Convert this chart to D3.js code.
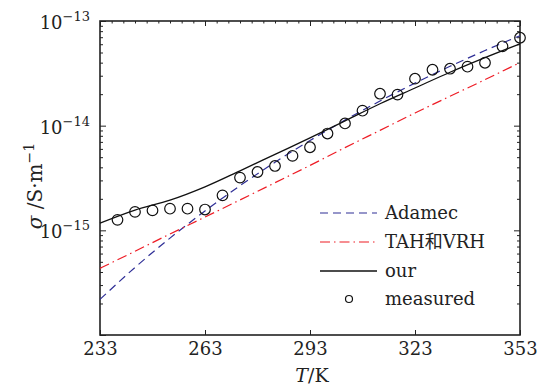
<!DOCTYPE html>
<html>
<head>
<meta charset="utf-8">
<script src="https://d3js.org/d3.v7.min.js"></script>
<style>
  body { margin: 0; background: #fff; }
  .axis path { display: none; }
  .axis line { stroke: #222; stroke-width: 1; }
</style>
</head>
<body>
<div id="chart"></div>
<script>
// temperatures for model curves (K)
var modelT = [233, 243, 253, 263, 273, 283, 293, 303, 313, 323, 333, 343, 353];
// conductivity, S/m
var adamec = [2.19e-16, 4.42e-16, 8.43e-16, 1.53e-15, 2.67e-15, 4.47e-15, 7.21e-15,
              1.13e-14, 1.72e-14, 2.55e-14, 3.69e-14, 5.22e-14, 7.24e-14];
var tahVrh = [4.33e-16, 6.31e-16, 9.23e-16, 1.34e-15, 1.95e-15, 2.85e-15, 4.17e-15,
              6.17e-15, 9.02e-15, 1.32e-14, 1.91e-14, 2.75e-14, 4.01e-14];
var ours   = [1.17e-15, 1.56e-15, 1.94e-15, 2.60e-15, 3.70e-15, 5.32e-15, 7.64e-15,
              1.11e-14, 1.62e-14, 2.29e-14, 3.24e-14, 4.47e-14, 6.05e-14];

var measT = [238, 243, 248, 253, 258, 263, 268, 273, 278, 283, 288, 293,
             298, 303, 308, 313, 318, 323, 328, 333, 338, 343, 348, 353];
var measured = [1.26e-15, 1.50e-15, 1.55e-15, 1.61e-15, 1.61e-15, 1.58e-15, 2.16e-15, 3.19e-15,
                3.61e-15, 4.12e-15, 5.14e-15, 6.22e-15, 8.41e-15, 1.05e-14, 1.39e-14, 2.02e-14,
                1.98e-14, 2.81e-14, 3.42e-14, 3.50e-14, 3.66e-14, 3.99e-14, 5.73e-14, 6.92e-14];

var xTicks = [233, 263, 293, 323, 353];
var yTicks = [1e-15, 1e-14, 1e-13];
var legendNames = ["Adamec", "TAH和VRH", "our", "measured"];

var FONT = "'DejaVu Serif', 'Noto Sans CJK SC'";
var w = 537, h = 387;
var pL = 100, pR = 520, pT = 21, pB = 335;

var svg = d3.select("#chart").append("svg")
  .attr("width", w)
  .attr("height", h)
  .style("font-family", FONT);

var x = d3.scaleLinear().domain([233, 353]).range([pL, pR]);
var y = d3.scaleLog().domain([1e-16, 1e-13]).range([pB, pT]);

// minor ticks
var yMinor = [];
[-16, -15, -14].forEach(function (e) {
  for (var m = 2; m <= 9; m++) yMinor.push(m * Math.pow(10, e));
});
var xMinor = [];
for (var i = 0; i < 4; i++) {
  for (var k = 1; k < 9; k++) xMinor.push(233 + i * 30 + k * 30 / 9);
}

// bottom axis
var xb = svg.append("g").attr("class", "axis")
  .attr("transform", "translate(0," + pB + ")")
  .call(d3.axisBottom(x).tickValues(xTicks).tickSize(-5).tickPadding(7).tickFormat(d3.format("d")));
xb.attr("font-family", FONT).attr("font-size", 18);
xb.selectAll("text").attr("fill", "#222");

// top axis
svg.append("g").attr("class", "axis")
  .attr("transform", "translate(0," + pT + ")")
  .call(d3.axisTop(x).tickValues(xTicks).tickSize(-5).tickFormat(""));
svg.append("g").attr("class", "axis")
  .attr("transform", "translate(0," + pT + ")")
  .call(d3.axisTop(x).tickValues(xMinor).tickSize(-2.5).tickFormat(""));

// left axis
var yl = svg.append("g").attr("class", "axis")
  .attr("transform", "translate(" + pL + ",0)")
  .call(d3.axisLeft(y).tickValues(yTicks.concat([1e-16])).tickSize(-6).tickPadding(10).tickFormat(""));
yl.attr("font-family", FONT).attr("font-size", 18);
yl.selectAll(".tick").filter(function (d) { return d > 2e-16; })
  .select("text")
  .attr("fill", "#222")
  .attr("dy", "0.42em")
  .each(function (d) {
    var t = d3.select(this);
    t.append("tspan").text("10");
    t.append("tspan").attr("dy", -8).attr("font-size", 13)
      .text("\u2212" + Math.round(-Math.log10(d)));
  });
svg.append("g").attr("class", "axis")
  .attr("transform", "translate(" + pL + ",0)")
  .call(d3.axisLeft(y).tickValues(yMinor).tickSize(-3).tickFormat(""));

// right axis
svg.append("g").attr("class", "axis")
  .attr("transform", "translate(" + pR + ",0)")
  .call(d3.axisRight(y).tickValues(yTicks).tickSize(-6).tickFormat(""));
svg.append("g").attr("class", "axis")
  .attr("transform", "translate(" + pR + ",0)")
  .call(d3.axisRight(y).tickValues(yMinor).tickSize(-3).tickFormat(""));

// frame
svg.append("rect")
  .attr("x", pL).attr("y", pT)
  .attr("width", pR - pL).attr("height", pB - pT)
  .attr("fill", "none").attr("stroke", "#222").attr("stroke-width", 1.6);

var line = d3.line()
  .x(function (d) { return x(d[0]); })
  .y(function (d) { return y(d[1]); })
  .curve(d3.curveMonotoneX);

var series = [
  { values: adamec, color: "#2e2e96", dash: "8,5", width: 1.2 },
  { values: tahVrh, color: "#ee1c25", dash: "10,4,1.5,4", width: 1.2 },
  { values: ours, color: "#111", dash: null, width: 1.3 }
];

series.forEach(function (s) {
  svg.append("path")
    .datum(d3.zip(modelT, s.values))
    .attr("d", line)
    .attr("fill", "none")
    .attr("stroke", s.color)
    .attr("stroke-width", s.width)
    .attr("stroke-dasharray", s.dash);
});

svg.selectAll(".meas")
  .data(d3.zip(measT, measured))
  .enter()
  .append("circle")
  .attr("class", "meas")
  .attr("cx", function (d) { return x(d[0]); })
  .attr("cy", function (d) { return y(d[1]); })
  .attr("r", 5.3)
  .attr("fill", "none")
  .attr("stroke", "#111")
  .attr("stroke-width", 1.2);

// legend
var lg = svg.append("g");
var rowY = [213, 242, 271, 299];
legendNames.forEach(function (name, i) {
  if (i < 3) {
    var s = series[i];
    lg.append("line")
      .attr("x1", 320).attr("x2", 377)
      .attr("y1", rowY[i]).attr("y2", rowY[i])
      .attr("stroke", s.color)
      .attr("stroke-width", s.width)
      .attr("stroke-dasharray", s.dash);
  } else {
    lg.append("circle")
      .attr("cx", 349).attr("cy", rowY[i]).attr("r", 3.5)
      .attr("fill", "none").attr("stroke", "#111").attr("stroke-width", 1.2);
  }
  lg.append("text")
    .attr("x", 385).attr("y", rowY[i] + 6)
    .attr("font-size", 18)
    .attr("fill", "#222")
    .text(name);
});

// axis titles
var xt = svg.append("text")
  .attr("x", 312).attr("y", 382)
  .attr("text-anchor", "middle")
  .attr("font-size", 19)
  .attr("fill", "#222");
xt.append("tspan").attr("font-style", "italic").text("T");
xt.append("tspan").text("/K");

var yt = svg.append("text")
  .attr("transform", "translate(42,186) rotate(-90)")
  .attr("text-anchor", "middle")
  .attr("font-size", 20)
  .attr("fill", "#222");
yt.append("tspan").attr("font-style", "italic").text("σ");
yt.append("tspan").text(" /S·m");
yt.append("tspan").attr("dy", -8).attr("font-size", 14).text("\u22121");
</script>
</body>
</html>
